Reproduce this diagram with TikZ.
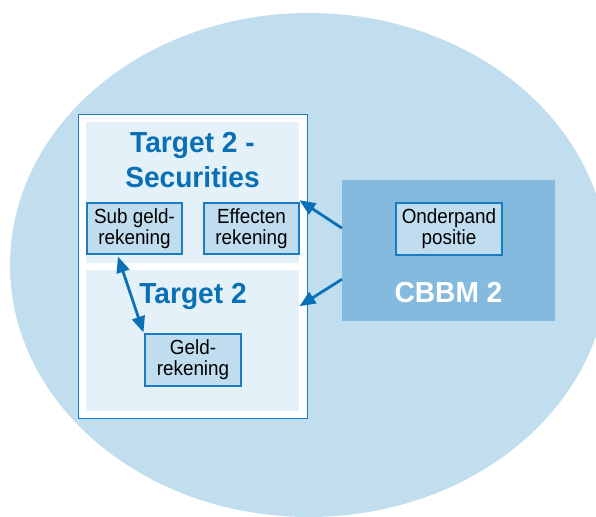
\documentclass[tikz,border=0pt]{standalone}
\usepackage{fontspec}
\setmainfont{Liberation Sans}[FakeStretch=0.97]
\newfontfamily\acctfont{Liberation Sans}[FakeStretch=0.92]
\usetikzlibrary{arrows.meta}
\definecolor{ellfill}{HTML}{C1DEEF}
\definecolor{panelfill}{HTML}{E5F1F8}
\definecolor{boxfill}{HTML}{C0DDEF}
\definecolor{bordblue}{HTML}{1B7DC1}
\definecolor{titleblue}{HTML}{0A70B5}
\definecolor{cbbmfill}{HTML}{84BADD}
\definecolor{arrblue}{HTML}{0A70B8}
\tikzset{
  panel/.style={fill=panelfill, draw=none, anchor=north west, inner sep=0pt},
  acct/.style={fill=boxfill, draw=bordblue, line width=1.1pt, inner sep=0pt, align=center,
    font=\acctfont\fontsize{20.5}{21}\selectfont, text=black},
  title/.style={text=titleblue, inner sep=0pt, align=center,
    font=\bfseries\fontsize{29}{35}\selectfont},
  arr/.style={draw=arrblue, line width=2.8pt, -{Triangle[length=16pt,width=13pt]}},
  darr/.style={draw=arrblue, line width=2.8pt, {Triangle[length=16pt,width=13pt]}-{Triangle[length=16pt,width=13pt]}}
}
\begin{document}
\begin{tikzpicture}[x=1pt,y=-1pt]
\useasboundingbox (0,0) rectangle (596,516);
\clip (0,0) rectangle (596,516);
% background ellipse
\fill[ellfill] (309,265) ellipse [x radius=299, y radius=252];
% outer white box
\node[fill=white, draw=bordblue, line width=1.4pt, anchor=north west, inner sep=0pt,
  minimum width=229pt, minimum height=304pt] (outer) at (78,114) {};
% panels
\node[panel, minimum width=213pt, minimum height=141pt] (t2s) at (86,122) {};
\node[panel, minimum width=213pt, minimum height=141pt] (t2) at (86,270) {};
% titles
\node[title] (t2stitle) at (192.5,160.5) {Target 2 -\\Securities};
\node[title, anchor=base] (t2title) at (193,303) {Target 2};
% account boxes
\node[acct, minimum width=95pt, minimum height=51pt] (sub) at (134.5,228.5) {Sub geld-\\rekening};
\node[acct, minimum width=95pt, minimum height=51pt] (eff) at (251.5,228.5) {Effecten\\rekening};
\node[acct, minimum width=96pt, minimum height=52pt] (geld) at (193,360) {Geld-\\rekening};
% CBBM 2
\node[fill=cbbmfill, draw=none, anchor=north west, inner sep=0pt,
  minimum width=213pt, minimum height=141pt] (cbbm) at (342,180) {};
\node[acct, minimum width=106pt, minimum height=52pt] (onder) at (449,229) {Onderpand\\positie};
\node[text=white, inner sep=0pt, font=\bfseries\fontsize{29}{33}\selectfont] (cbbmtitle) at (448.5,293) {CBBM 2};
% arrows
\draw[arr] ([yshift=22.5pt]cbbm.west) -- ([yshift=-7.5pt,xshift=0pt]t2s.east);
\draw[arr] ([yshift=-28.5pt]cbbm.west) -- ([yshift=34.5pt]t2.east);
\draw[darr] ([xshift=-16.5pt,yshift=-2pt]sub.south) -- ([xshift=-1pt,yshift=1pt]geld.north west);
\end{tikzpicture}
\end{document}
